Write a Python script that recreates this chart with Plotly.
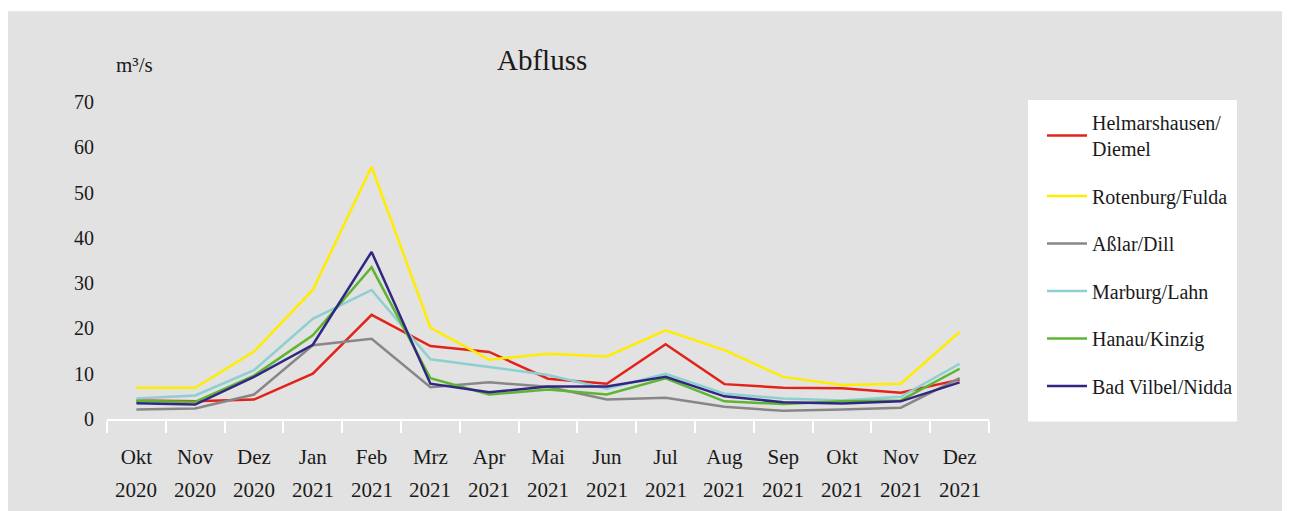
import plotly.graph_objects as go

months = ["Okt", "Nov", "Dez", "Jan", "Feb", "Mrz", "Apr", "Mai", "Jun", "Jul", "Aug", "Sep", "Okt", "Nov", "Dez"]
years = ["2020", "2020", "2020", "2021", "2021", "2021", "2021", "2021", "2021", "2021", "2021", "2021", "2021", "2021", "2021"]
categories = [f"{m} {y}" for m, y in zip(months, years)]

helmarshausen = [4.1, 3.9, 4.3, 10.0, 23.0, 16.1, 14.8, 8.9, 7.8, 16.5, 7.7, 6.9, 6.8, 5.8, 8.7]
rotenburg = [6.9, 6.9, 14.9, 28.5, 55.7, 20.2, 13.1, 14.4, 13.8, 19.6, 15.2, 9.3, 7.5, 7.8, 19.2]
asslar = [2.1, 2.3, 5.4, 16.3, 17.7, 7.0, 8.1, 7.1, 4.3, 4.7, 2.7, 1.8, 2.1, 2.5, 9.0]
marburg = [4.5, 5.2, 10.8, 22.1, 28.5, 13.2, 11.5, 9.7, 6.7, 10.0, 5.6, 4.5, 4.1, 4.9, 12.2]
hanau = [4.0, 3.8, 9.6, 18.5, 33.5, 9.0, 5.4, 6.5, 5.4, 9.0, 3.9, 3.3, 3.9, 4.1, 11.1]
bad_vilbel = [3.5, 3.2, 9.3, 16.4, 36.9, 7.8, 5.9, 7.2, 7.2, 9.3, 5.0, 3.7, 3.4, 3.9, 8.1]

series = [
    ("Helmarshausen/<br>Diemel", helmarshausen, "#e2231a"),
    ("Rotenburg/Fulda", rotenburg, "#ffed00"),
    ("Aßlar/Dill", asslar, "#878787"),
    ("Marburg/Lahn", marburg, "#8ecfd0"),
    ("Hanau/Kinzig", hanau, "#5db531"),
    ("Bad Vilbel/Nidda", bad_vilbel, "#312783"),
]

FONT = "Liberation Serif"
TXT = "#1a1a1a"
OFF = 8  # page offset of the figure inside the browser window
W, H = 1290 + OFF, 511
# target plot area in window pixels: x 107..989, y 102..419.5
L = 107 - OFF
T = 102 - OFF
R = W - (989 - OFF)
B = H - (419.5 - OFF)
pw, ph = W - L - R, H - T - B


def px_x(p):
    return (p - OFF - L) / pw


def px_y(p):
    return (H - B - (p - OFF)) / ph


fig = go.Figure()
for i, (name, vals, color) in enumerate(series):
    fig.add_trace(go.Scatter(
        x=categories, y=vals, mode="lines", name=name,
        line=dict(color=color, width=2.5), legendgroup=f"g{i}",
    ))

shapes = [
    dict(type="rect", xref="paper", yref="paper", layer="below",
         x0=px_x(0), x1=px_x(1320), y0=px_y(11), y1=px_y(530),
         fillcolor="#e2e2e2", line=dict(width=0)),
    dict(type="rect", xref="paper", yref="paper", layer="below",
         x0=px_x(1028), x1=px_x(1237), y0=px_y(100), y1=px_y(422),
         fillcolor="white", line=dict(width=0)),
]

annotations = [
    dict(text="Abfluss", x=px_x(542), y=px_y(60), xref="paper", yref="paper",
         showarrow=False, xanchor="center", yanchor="middle",
         font=dict(family=FONT, size=29, color=TXT)),
    dict(text="m³/s", x=px_x(134), y=px_y(65), xref="paper", yref="paper",
         showarrow=False, xanchor="center", yanchor="middle",
         font=dict(family=FONT, size=21, color=TXT)),
]
for c, y in zip(categories, years):
    annotations.append(dict(text=y, x=c, y=px_y(491), xref="x", yref="paper",
                            showarrow=False, xanchor="center", yanchor="middle",
                            font=dict(family=FONT, size=21, color=TXT)))

fig.update_layout(
    width=W, height=H,
    margin=dict(l=L, r=R, t=T, b=B),
    paper_bgcolor="white", plot_bgcolor="white",
    font=dict(family=FONT, size=20, color=TXT),
    shapes=shapes, annotations=annotations,
    showlegend=True,
    legend=dict(x=px_x(1042), y=px_y(103), xanchor="left", yanchor="top",
                bgcolor="rgba(0,0,0,0)", tracegroupgap=18.5,
                font=dict(family=FONT, size=20, color=TXT),
                itemwidth=40),
    xaxis=dict(
        type="category", categoryorder="array", categoryarray=categories,
        tickvals=categories, ticktext=months, range=[-0.5, 14.5],
        showgrid=False, showline=True, linecolor="white", linewidth=2,
        ticks="outside", tickson="boundaries", tickcolor="white", ticklen=12, tickwidth=2,
        ticklabelstandoff=18,
        tickfont=dict(family=FONT, size=21, color=TXT),
    ),
    yaxis=dict(
        range=[0, 70], dtick=10, showgrid=True, gridcolor="#e3e3e3", gridwidth=2,
        zeroline=False, showline=False, ticks="", ticklabelstandoff=12,
        tickfont=dict(family=FONT, size=20, color=TXT),
    ),
)

fig.write_html("out.html")
